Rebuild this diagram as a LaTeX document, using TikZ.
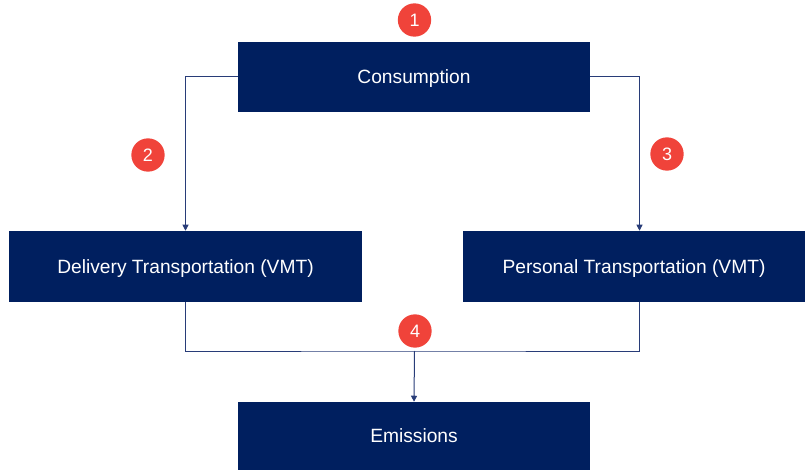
\documentclass[tikz,border=0pt]{standalone}
\usepackage{fontspec}
\setmainfont{Liberation Sans}
\usetikzlibrary{arrows.meta}
\definecolor{navy}{RGB}{0,31,95}
\definecolor{badgered}{RGB}{240,67,58}
\definecolor{linecol}{RGB}{40,60,120}
\begin{document}
\begin{tikzpicture}[x=0.75pt,y=-0.75pt,
  box/.style={draw=none,fill=navy,text=white,font=\fontsize{14.4}{16}\selectfont,
    inner sep=0pt,anchor=center,text height=10.4pt,text depth=0pt},
  badge/.style={circle,fill=badgered,text=white,minimum size=25pt,inner sep=0pt,
    font=\fontsize{13.5}{15}\selectfont,text height=9.7pt,text depth=0pt},
  conn/.style={draw=linecol,line width=0.75pt},
  arr/.style={conn,-{Triangle[length=4.5pt,width=4.5pt]}}]
\useasboundingbox (0,0) rectangle (806,470);
\node[box,minimum width=264pt,minimum height=52.5pt] (cons) at (414,77) {Consumption};
\node[box,minimum width=264.75pt,minimum height=53.25pt] (deliv) at (185.5,266.5) {Delivery Transportation (VMT)};
\node[box,minimum width=256.5pt,minimum height=53.25pt] (pers) at (634,266.5) {Personal Transportation (VMT)};
\node[box,minimum width=264pt,minimum height=51pt] (emis) at (414,436) {Emissions};
\coordinate (pr) at (639.5,0);
\coordinate (m) at (414.5,351);
\draw[arr] (cons.west) -| (deliv.north);
\draw[arr] (cons.east) -| (pr |- pers.north);
\draw[conn] (deliv.south) |- (m) -| (pr |- pers.south);
\draw[arr] (m) -- (emis.north);
\node[badge] (b1) at (414.5,20) {1};
\node[badge] (b2) at (148,155) {2};
\node[badge] (b3) at (667,154) {3};
\node[badge] (b4) at (415,331) {4};
\end{tikzpicture}
\end{document}
